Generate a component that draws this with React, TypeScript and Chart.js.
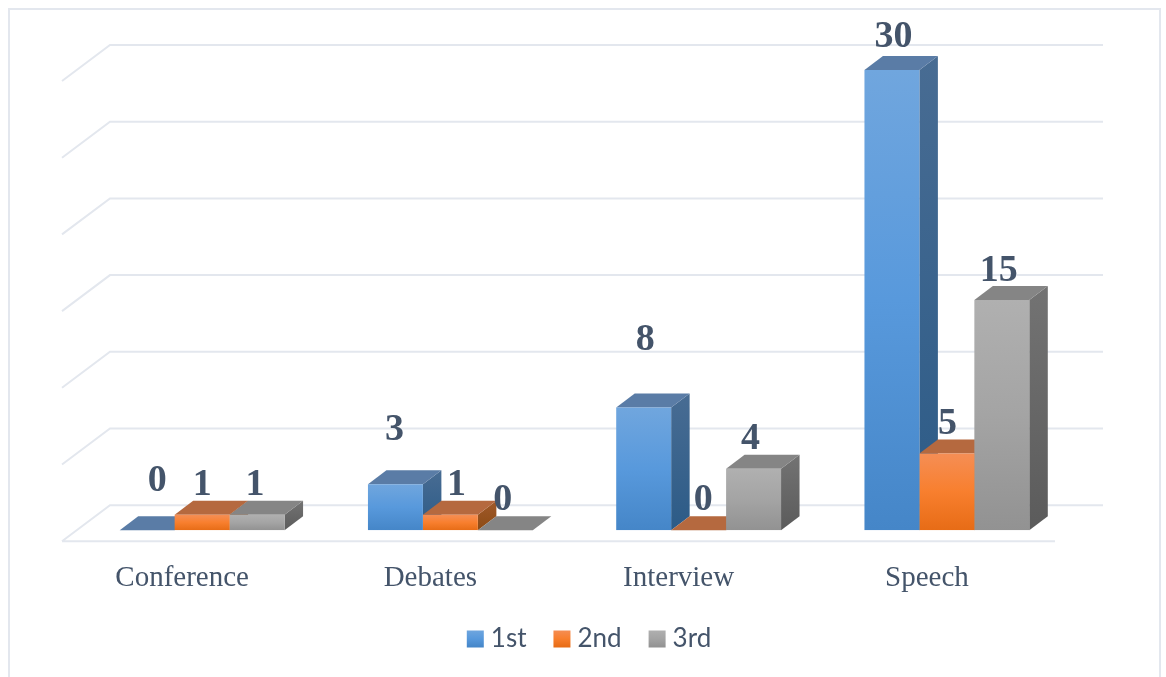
import { useEffect, useRef } from "react";
import { Chart, registerables } from "chart.js";

Chart.register(...registerables);

const categories = ["Conference", "Debates", "Interview", "Speech"];
const seriesNames = ["1st", "2nd", "3rd"];
const firstPlace = [0, 3, 8, 30];
const secondPlace = [1, 1, 0, 5];
const thirdPlace = [1, 0, 4, 15];
const seriesValues = [firstPlace, secondPlace, thirdPlace];

// Extrusion of each column and of the floor, in canvas pixels.
const DEPTH_X = 18.5;
const DEPTH_Y = 14;
const BACK_X = 32;
const BACK_Y = -25;
const FRONT_X = -16;
const FRONT_Y = 11;

const INK = "#44546a";
const GRID = "#e3e7ee";

type Shade = { front: [string, string, string]; top: string; side: [string, string] };
const shades: Shade[] = [
  { front: ["#70a6de", "#5899dc", "#4586c8"], top: "#5a7ca6", side: ["#486c93", "#2c5b87"] },
  { front: ["#f58e55", "#f87f2e", "#e76c16"], top: "#b5693f", side: ["#a05a2a", "#8c4a14"] },
  { front: ["#b0b0b0", "#a4a4a4", "#929292"], top: "#858585", side: ["#737373", "#5b5b5b"] },
];

// Hand placement of the value labels relative to the column's top-centre.
const labelNudges: [number, number][][] = [
  [[10, -39], [-1, -44], [1.5, -57], [1.5, -23]],
  [[0, -20], [6, -20], [4.5, -20], [0.5, -20]],
  [[-2, -20], [-2.5, -20], [-3, -20], [-3, -19]],
];

function verticalGradient(c: CanvasRenderingContext2D, top: number, bottom: number, stops: string[]) {
  const g = c.createLinearGradient(0, top, 0, bottom);
  stops.forEach((s, i) => g.addColorStop(i / (stops.length - 1), s));
  return g;
}

function fillPoly(c: CanvasRenderingContext2D, pts: number[][], fill: string | CanvasGradient) {
  c.beginPath();
  pts.forEach(([x, y], i) => (i ? c.lineTo(x, y) : c.moveTo(x, y)));
  c.closePath();
  c.fillStyle = fill;
  c.fill();
}

// Floor, back gridlines and the top and side faces sit beneath the front faces.
const extrusion = {
  id: "extrusion",
  beforeDatasetsDraw(chart: any) {
    const c: CanvasRenderingContext2D = chart.ctx;
    const { left, right } = chart.chartArea;
    const yScale = chart.scales.y;
    c.save();
    c.strokeStyle = GRID;
    c.lineWidth = 2;
    for (const tick of yScale.ticks) {
      const y = yScale.getPixelForValue(tick.value);
      c.beginPath();
      c.moveTo(left + FRONT_X, y + FRONT_Y);
      c.lineTo(left + BACK_X, y + BACK_Y);
      c.lineTo(right + BACK_X, y + BACK_Y);
      if (tick.value === 0) {
        c.moveTo(left + FRONT_X, y + FRONT_Y);
        c.lineTo(right + FRONT_X, y + FRONT_Y);
      }
      c.stroke();
    }
    seriesValues.forEach((_, s) => {
      const bars = chart.getDatasetMeta(s).data;
      bars.forEach((bar: any) => {
        const half = bar.width / 2;
        const l = bar.x - half;
        const r = bar.x + half;
        const t = bar.y;
        const b = bar.base;
        fillPoly(c, [[r, t], [r + DEPTH_X, t - DEPTH_Y], [r + DEPTH_X, b - DEPTH_Y], [r, b]],
          verticalGradient(c, t - DEPTH_Y, b, shades[s].side));
        fillPoly(c, [[l, t], [l + DEPTH_X, t - DEPTH_Y], [r + DEPTH_X, t - DEPTH_Y], [r, t]], shades[s].top);
      });
    });
    c.restore();
  },
  afterDatasetsDraw(chart: any) {
    const c: CanvasRenderingContext2D = chart.ctx;
    c.save();
    c.font = 'bold 38px "Liberation Serif"';
    c.fillStyle = INK;
    c.textAlign = "center";
    c.textBaseline = "alphabetic";
    seriesValues.forEach((values, s) => {
      chart.getDatasetMeta(s).data.forEach((bar: any, i: number) => {
        const [dx, dy] = labelNudges[s][i];
        c.fillText(String(values[i]), bar.x + dx, bar.y + dy);
      });
    });
    c.restore();
  },
  afterLayout(chart: any) {
    // The legend is centred on the canvas rather than on the plot area.
    chart.legend.left += 17.5;
    chart.legend.right += 17.5;
  },
};

export default function App() {
  const ref = useRef<HTMLCanvasElement>(null);
  useEffect(() => {
    const canvas = ref.current!;
    const chart = new Chart(canvas, {
      type: "bar",
      data: {
        labels: categories,
        datasets: seriesValues.map((values, s) => ({
          label: seriesNames[s],
          data: values,
          borderWidth: 0,
          backgroundColor: (ctx: any) => {
            const area = ctx.chart.chartArea;
            if (!area || !ctx.parsed) return shades[s].front[1];
            const y = ctx.chart.scales.y;
            const top = y.getPixelForValue(ctx.parsed.y);
            const bottom = y.getPixelForValue(0);
            if (bottom - top < 1) return shades[s].front[1];
            return verticalGradient(ctx.chart.ctx, top, bottom, shades[s].front);
          },
        })),
      },
      plugins: [extrusion],
      options: {
        responsive: false,
        animation: false,
        devicePixelRatio: 1,
        layout: { padding: { left: 78, right: 95, top: 70, bottom: 15 } },
        datasets: { bar: { categoryPercentage: 0.664, barPercentage: 1 } },
        scales: {
          x: {
            grid: { display: false },
            border: { display: false },
            afterFit: (scale: any) => {
              // Labels may hang below the axis box, into the gap above the legend.
              scale.height -= 26;
            },
            ticks: {
              color: INK,
              font: { family: '"Liberation Serif"', size: 29 },
              padding: 23,
              labelOffset: -20,
              maxRotation: 0,
              autoSkip: false,
            },
          },
          y: { display: false, min: 0, max: 30, ticks: { stepSize: 5 } },
        },
        plugins: {
          tooltip: { enabled: false },
          legend: {
            position: "bottom",
            labels: {
              color: INK,
              font: { family: "Lato", size: 26 },
              usePointStyle: true,
              boxWidth: 5,
              boxHeight: 17,
              padding: 33,
              generateLabels: (ch: any) =>
                seriesNames.map((name, s) => ({
                  text: name,
                  datasetIndex: s,
                  fontColor: INK,
                  lineWidth: 0,
                  pointStyle: "rect",
                  strokeStyle: "transparent",
                  fillStyle: verticalGradient(ch.ctx, 630, 647, shades[s].front),
                })),
            },
          },
        },
      },
    } as any);
    return () => chart.destroy();
  }, []);
  return (
    <div style={{ position: "absolute", left: 0, top: 0, width: 1166, height: 677, overflow: "hidden", background: "#fff" }}>
      <div
        style={{
          position: "absolute",
          left: 8,
          top: 8,
          width: 1153,
          height: 680,
          border: `2px solid ${GRID}`,
          boxSizing: "border-box",
        }}
      />
      <canvas ref={ref} width={1166} height={677} style={{ position: "absolute", left: 0, top: 0 }} />
    </div>
  );
}
